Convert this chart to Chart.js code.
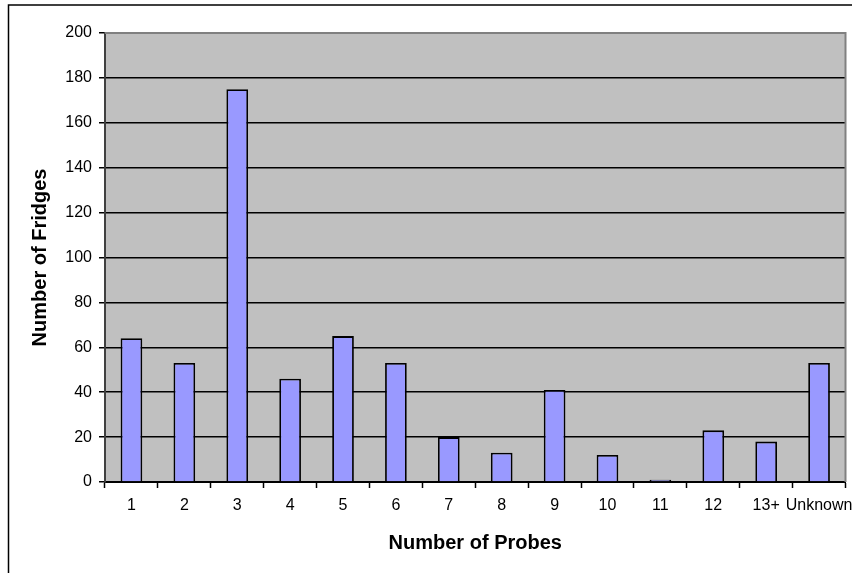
<!DOCTYPE html>
<html>
<head>
<meta charset="utf-8">
<script src="https://cdn.jsdelivr.net/npm/chart.js@4/dist/chart.umd.min.js"></script>
<style>
  html, body { margin: 0; padding: 0; background: #fff; }
  #wrap { width: 852px; height: 573px; position: relative; }
</style>
</head>
<body>
<div id="wrap"><canvas id="c" width="852" height="573"></canvas></div>
<script>
// Fridges grouped by how many probes they carry
const probeCounts = ['1', '2', '3', '4', '5', '6', '7', '8', '9', '10', '11', '12', '13+', 'Unknown'];
const fridgeCounts = [64, 53, 175, 46, 65, 53, 20, 13, 41, 12, 1, 23, 18, 53];
const yTicks = [0, 20, 40, 60, 80, 100, 120, 140, 160, 180, 200];

const FONT = '"Liberation Sans", Arial, sans-serif';

// Grey plot background, plot frame and outer chart frame
const framePlugin = {
  id: 'frame',
  beforeDraw(chart) {
    const { ctx, chartArea: a } = chart;
    ctx.save();
    ctx.fillStyle = '#ffffff';
    ctx.fillRect(0, 0, chart.width, chart.height);
    ctx.fillStyle = '#c0c0c0';
    ctx.fillRect(a.left, a.top, a.right - a.left, a.bottom - a.top);
    ctx.strokeStyle = '#000';
    ctx.lineWidth = 1.5;
    ctx.strokeRect(8.5, 5, chart.width + 20, chart.height + 20);
    ctx.restore();
  },
  afterDatasetsDraw(chart) {
    const { ctx, chartArea: a } = chart;
    ctx.save();
    ctx.strokeStyle = '#808080';
    ctx.lineWidth = 2;
    ctx.beginPath();
    ctx.moveTo(a.left, a.top);
    ctx.lineTo(a.right, a.top);
    ctx.lineTo(a.right, a.bottom);
    ctx.stroke();
    ctx.restore();
  }
};

new Chart(document.getElementById('c'), {
  type: 'bar',
  data: {
    labels: probeCounts,
    datasets: [{
      data: fridgeCounts,
      backgroundColor: '#9999ff',
      borderColor: '#000000',
      borderWidth: 1.8,
      barPercentage: 0.41,
      categoryPercentage: 1.0
    }]
  },
  options: {
    responsive: false,
    animation: false,
    devicePixelRatio: 1,
    layout: { padding: { left: 0, top: 33, right: 6.5, bottom: 0 } },
    plugins: {
      legend: { display: false },
      tooltip: { enabled: false }
    },
    scales: {
      x: {
        afterFit(scale) {
          scale.height = 91;
          // let the last label run off the edge instead of shrinking the plot
          scale.paddingLeft = 0;
          scale.paddingRight = 0;
        },
        grid: {
          offset: true,
          drawOnChartArea: false,
          drawTicks: true,
          tickLength: 6,
          tickColor: '#000',
          tickWidth: 1.5
        },
        border: { display: true, color: '#000', width: 2 },
        ticks: {
          color: '#000',
          font: { family: FONT, size: 16 },
          padding: 8,
          maxRotation: 0,
          autoSkip: false
        },
        title: {
          display: true,
          text: 'Number of Probes',
          color: '#000',
          font: { family: FONT, size: 20, weight: 'bold' },
          padding: { top: 0, bottom: 18 }
        }
      },
      y: {
        min: 0,
        max: 200,
        afterFit(scale) { scale.width = 105; },
        afterBuildTicks(scale) { scale.ticks = yTicks.map(v => ({ value: v })); },
        grid: {
          color: '#000',
          lineWidth: 1.5,
          drawTicks: true,
          tickLength: 6,
          tickColor: '#000'
        },
        border: { display: true, color: '#404040', width: 2 },
        ticks: {
          color: '#000',
          font: { family: FONT, size: 16 },
          padding: 7
        },
        title: {
          display: true,
          text: 'Number of Fridges',
          color: '#000',
          font: { family: FONT, size: 20, weight: 'bold' },
          padding: { top: 28, bottom: 0 }
        }
      }
    }
  },
  plugins: [framePlugin]
});
</script>
</body>
</html>
